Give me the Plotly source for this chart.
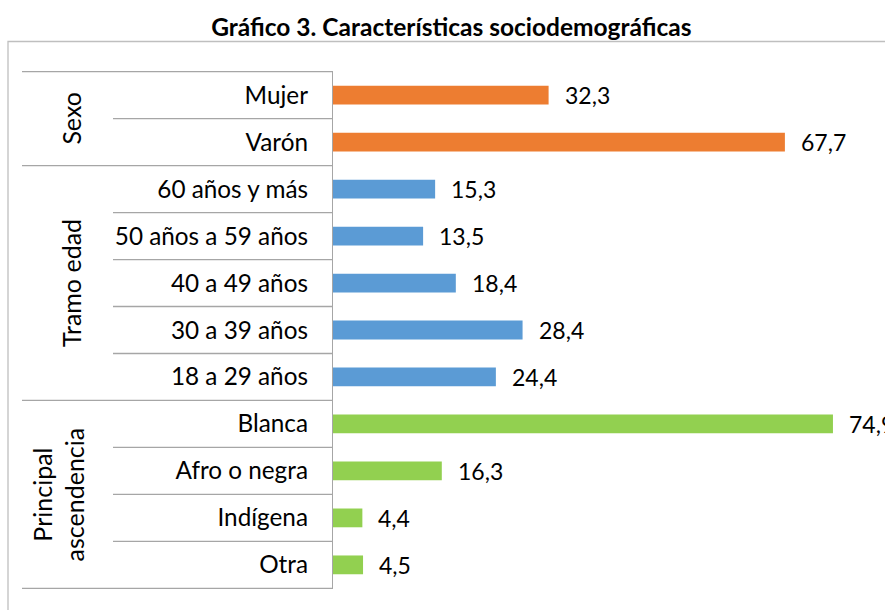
import plotly.graph_objects as go

# ---- data ----
title_text = "Gráfico 3. Características sociodemográficas"
groups = ["Sexo", "Tramo edad", "Principal<br>ascendencia"]
sexo_cats = ["Mujer", "Varón"]
sexo_vals = [32.3, 67.7]
edad_cats = ["60 años y más", "50 años a 59 años", "40 a 49 años", "30 a 39 años", "18 a 29 años"]
edad_vals = [15.3, 13.5, 18.4, 28.4, 24.4]
asc_cats = ["Blanca", "Afro o negra", "Indígena", "Otra"]
asc_vals = [74.9, 16.3, 4.4, 4.5]

group_cats = [sexo_cats, edad_cats, asc_cats]
group_vals = [sexo_vals, edad_vals, asc_vals]
group_colors = ["#ED7D31", "#5B9BD5", "#92D050"]

# ---- layout constants ----
W, H = 885, 610
L, R, T, B = 333, 18, 71, 21
FONT = "Lato"
LINE = "#A6A6A6"

def px(xp):
    return (xp - L) / (W - L - R)

def py(yp):
    return (H - B - yp) / (H - T - B)

cats = [c for g in group_cats for c in g]
vals = [v for g in group_vals for v in g]
colors = [group_colors[i] for i, g in enumerate(group_cats) for _ in g]

fig = go.Figure()
fig.add_trace(go.Bar(
    x=vals, y=cats, orientation="h", width=0.4,
    marker=dict(color=colors, line=dict(width=0)),
    hoverinfo="x+y", showlegend=False,
))

# value labels
for c, v in zip(cats, vals):
    fig.add_annotation(x=v, y=c, xref="x", yref="y",
                       text=f"{v:.1f}".replace(".", ","),
                       showarrow=False, xanchor="left", xshift=14,
                       font=dict(family=FONT, size=23, color="#000"))

# separator lines of the category table
shapes = []
n = len(cats)
boundaries = [-0.5]
acc = -0.5
for g in group_cats:
    acc += len(g)
    boundaries.append(acc)
for i in range(n + 1):
    yv = i - 0.5
    x0 = px(22) if yv in boundaries else px(113)
    shapes.append(dict(type="line", xref="paper", yref="y", x0=x0, x1=0,
                       y0=yv, y1=yv, line=dict(color=LINE, width=1.3)))
# outer frame
shapes.append(dict(type="rect", xref="paper", yref="paper",
                   x0=px(8), x1=px(W + 10), y0=py(H + 10), y1=py(41.5),
                   line=dict(color="#BFBFBF", width=1.3), layer="below"))

# group labels
start = 0
group_x = [71, 71, 58]
for gname, g, gx in zip(groups, group_cats, group_x):
    mid = start + (len(g) - 1) / 2
    fig.add_annotation(x=px(gx), y=mid, xref="paper", yref="y",
                       text=gname, textangle=-90, showarrow=False,
                       xanchor="center", yanchor="middle",
                       font=dict(family=FONT, size=25, color="#000"))
    start += len(g)

fig.update_layout(
    width=W, height=H,
    margin=dict(l=L, r=R, t=T, b=B, autoexpand=False),
    paper_bgcolor="white", plot_bgcolor="white",
    title=dict(text=f"<b>{title_text}</b>", x=0.51, xanchor="center",
               y=1 - 27 / H, yanchor="middle",
               font=dict(family=FONT, size=24.5, color="#000")),
    shapes=shapes,
    xaxis=dict(range=[0, 80], visible=False, fixedrange=True),
    yaxis=dict(categoryorder="array", categoryarray=cats, autorange="reversed",
               showline=True, linecolor=LINE, linewidth=1.3, ticks="",
               showgrid=False, ticklabelstandoff=19, fixedrange=True,
               tickfont=dict(family=FONT, size=24.3, color="#000")),
    font=dict(family=FONT),
)

fig.write_html("out.html", config={"displayModeBar": False},
               post_script="document.body.style.margin='0';")
